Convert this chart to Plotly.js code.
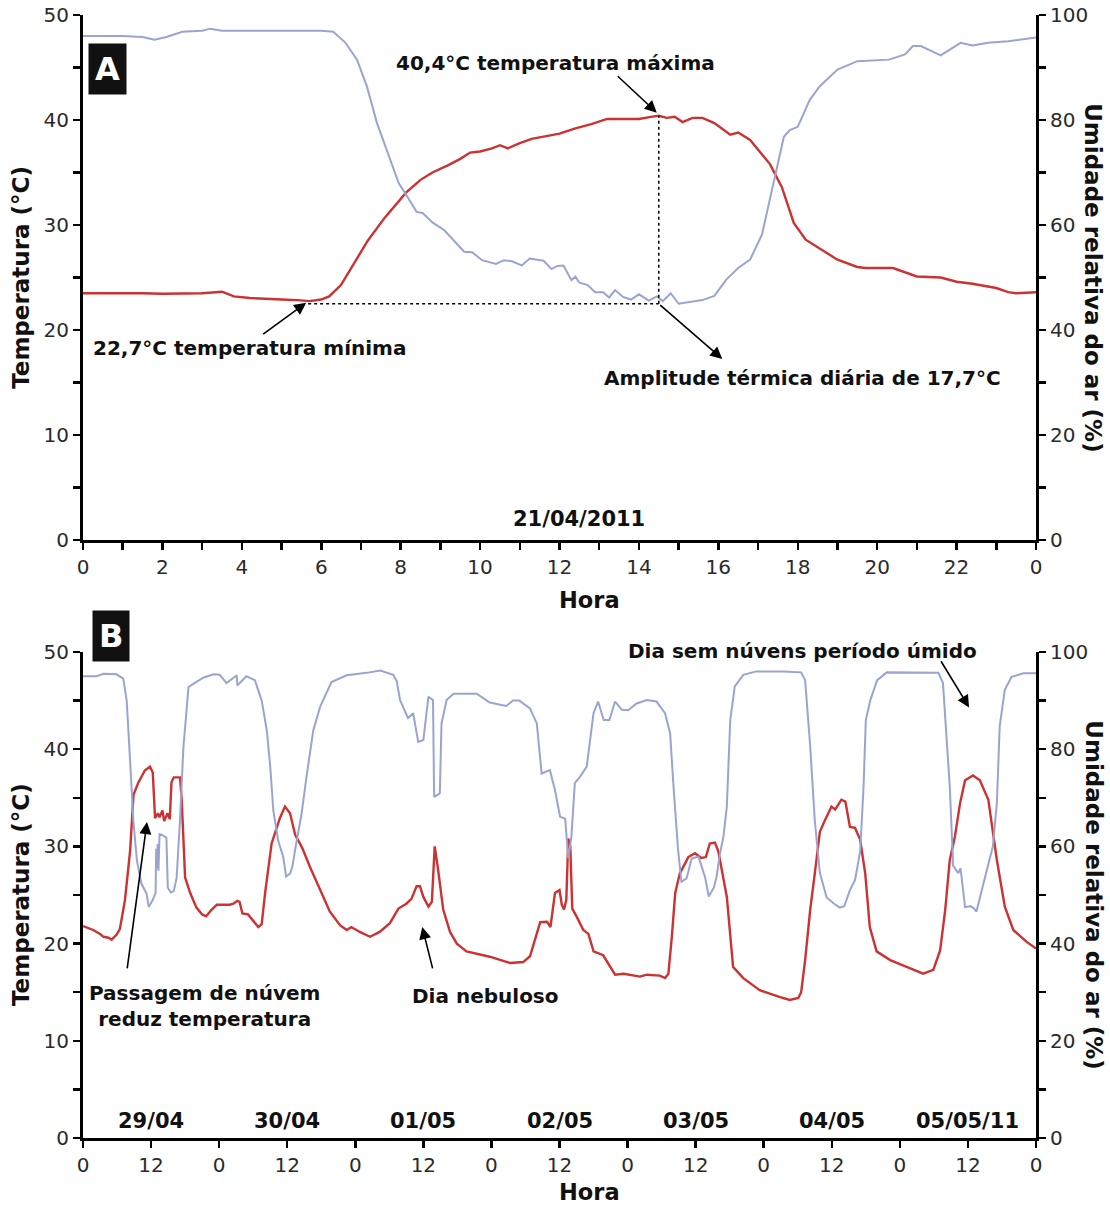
<!DOCTYPE html>
<html><head><meta charset="utf-8">
<script src="https://cdn.plot.ly/plotly-3.0.1.min.js"></script>
<style>body{margin:0;background:#fff}#chart{width:1110px;height:1205px}</style>
</head><body><div id="chart"></div>
<script>
// ---------- Panel A : 21/04/2011 ----------
const hoursA_T = [0,0.5,1,1.5,2,2.5,3,3.5,3.8,4.2,4.6,5,5.4,5.7,6.0,6.2,6.5,6.8,7.17,7.6,8.14,8.5,8.8,9.2,9.5,9.75,10.0,10.3,10.5,10.7,11.0,11.3,11.6,12.0,12.4,12.8,13.2,13.6,14.0,14.3,14.5,14.7,14.9,15.1,15.35,15.6,15.9,16.3,16.5,16.8,17.0,17.3,17.6,17.9,18.2,18.5,19.0,19.5,19.7,20.4,21.0,21.6,22.0,22.4,22.8,23.0,23.3,23.5,24];
const tempA   = [23.5,23.5,23.55,23.5,23.45,23.45,23.5,23.65,23.2,23.05,22.95,22.9,22.85,22.75,22.9,23.2,24.3,26.2,28.5,30.7,33.1,34.3,35.0,35.7,36.3,36.9,37.0,37.3,37.6,37.3,37.8,38.2,38.4,38.7,39.2,39.6,40.1,40.1,40.1,40.3,40.4,40.2,40.3,39.8,40.2,40.2,39.7,38.6,38.8,38.1,37.2,35.8,33.6,30.2,28.6,27.9,26.7,26.0,25.9,25.9,25.1,25.0,24.6,24.4,24.1,24.0,23.6,23.5,23.6];
const hoursA_RH = [0,0.5,1.0,1.5,1.8,2.1,2.5,3.0,3.2,3.5,4.0,5.0,6.0,6.3,6.6,6.9,7.15,7.4,7.7,7.95,8.2,8.4,8.55,8.8,9.1,9.6,9.8,10.05,10.4,10.6,10.8,11.05,11.25,11.6,11.8,11.95,12.1,12.3,12.4,12.5,12.7,12.9,13.1,13.25,13.4,13.6,13.8,14.0,14.25,14.45,14.6,14.8,15.0,15.3,15.6,15.9,16.2,16.5,16.8,17.1,17.37,17.65,17.8,18.0,18.3,18.55,19.0,19.5,20.3,20.7,20.9,21.1,21.6,22.1,22.4,22.8,23.3,24.0];
const rhA = [96.0,96.0,96.0,95.8,95.3,95.8,96.8,97.0,97.4,97.0,97.0,97.0,97.0,96.8,94.8,91.5,86.4,79.5,73,68,65,62.5,62.3,60.5,59.0,54.9,54.8,53.3,52.6,53.3,53.1,52.3,53.6,53.2,51.6,52.2,52.3,49.5,50.2,49.0,48.6,47.2,47.2,46.2,47.6,46.3,45.8,46.8,45.6,46.4,45.5,47.0,45.0,45.3,45.7,46.5,49.6,51.8,53.4,58.2,67.2,76.8,78.1,78.7,83.8,86.4,89.6,91.2,91.5,92.5,94.1,94.1,92.3,94.7,94.2,94.7,95.0,95.7];
const tMax = 40.4, tMaxHour = 14.5;
const tMin = 22.7, tMinHour = 5.67;
const dateA = '21/04/2011';
const ticksA = [0,2,4,6,8,10,12,14,16,18,20,22,24];
const tickTextA = ['0','2','4','6','8','10','12','14','16','18','20','22','0'];

// ---------- Panel B : 29/04 – 05/05/2011 ----------
const hoursB_T = [0,1.8,3.0,3.6,4.5,5.05,5.9,6.5,7.4,8.3,8.9,9.7,10.9,11.8,12.3,12.7,13.2,13.5,14.0,14.3,14.9,15.3,15.6,16.0,17.1,17.4,18.0,18.9,20.0,21.0,21.7,22.7,23.6,25.9,26.5,27.2,27.6,28.1,29.1,30.0,30.9,31.5,32.1,33.25,34.7,35.6,36.5,37.4,38.6,40.0,41.8,43.5,45.3,46.5,47.3,48.8,50.6,52.3,54.1,55.6,57.0,57.9,58.8,59.4,60.0,60.9,61.5,62.0,62.6,63.5,64.7,65.9,67.6,71.7,75.3,77.6,78.8,80.6,81.8,82.4,83.2,84.0,84.4,84.8,85.2,85.55,85.9,86.25,87.0,88.2,89.1,90.0,91.7,93.8,95.3,98.2,99.4,101.7,102.6,103.2,103.8,104.4,105.2,106.7,107.9,109.0,109.8,110.5,111.4,112.0,113.5,114.6,116.4,119.3,122.9,124.6,126.1,126.6,127.3,128.2,129.0,129.9,130.8,131.95,132.6,133.7,134.4,135.2,136.1,137.0,137.9,138.7,139.9,142.3,145.2,148.1,149.9,151.1,152.0,152.8,153.7,154.6,155.5,156.9,158.1,159.6,161.1,162.5,164.0,166.3,168];
const tempB = [21.8,21.4,21.0,20.7,20.6,20.4,20.9,21.5,24.5,29.5,35.3,36.5,37.8,38.2,37.6,32.9,33.4,33.0,33.7,32.6,33.4,32.8,36.6,37.1,37.1,34.8,26.8,25.2,23.7,23.0,22.8,23.5,24.0,24.0,24.1,24.4,24.3,23.1,23.0,22.4,21.7,22.0,25.2,30.3,32.9,34.1,33.4,31.2,29.9,27.9,25.5,23.3,21.9,21.4,21.7,21.2,20.7,21.2,22.1,23.6,24.1,24.6,25.9,25.9,24.8,23.8,24.3,30.0,27.6,23.5,21.2,20.0,19.2,18.65,18.0,18.1,18.7,22.2,22.25,21.7,25.2,25.5,24.0,23.5,24.5,30.8,30.0,23.6,22.8,21.4,21.0,19.2,18.8,16.8,16.9,16.6,16.8,16.7,16.45,16.9,20.7,25.2,27.2,28.9,29.3,28.8,28.9,30.3,30.4,29.5,24.8,17.6,16.45,15.2,14.5,14.2,14.4,15.0,18.3,23.5,27.2,31.5,32.7,34.1,33.8,34.8,34.6,32.0,31.9,30.7,27.2,21.7,19.2,18.3,17.6,16.9,17.3,19.3,23.5,28.6,31.0,34.4,36.8,37.3,36.8,34.8,28.6,23.8,21.4,20.2,19.5];
const hoursB_RH = [0,2.4,3.6,5.9,7.1,7.7,8.3,8.87,9.5,10.3,11.2,11.6,12.3,12.8,12.9,13.05,13.15,13.3,13.5,14.0,14.7,14.95,15.5,16.0,16.5,17.1,17.7,18.6,19.5,21.2,23.0,24.1,25.3,26.3,27.1,27.2,28.0,28.8,30.3,31.5,32.4,33.0,33.55,34.4,35.3,35.8,36.5,36.9,37.5,38.5,39.4,40.6,41.8,43.8,46.5,50.0,52.4,54.1,54.7,55.3,55.9,57.3,58.2,59.1,60.0,60.9,61.7,61.9,62.9,63.2,64.1,65.3,69.4,71.7,74.6,75.8,76.9,78.8,80.0,80.85,82.3,83.2,84.1,85.0,85.55,86.1,86.7,87.6,88.8,90.0,90.8,91.8,92.8,93.8,95.0,96.1,97.6,99.4,101.1,102.6,103.5,104.1,104.9,105.5,106.4,107.3,108.5,109.7,110.3,111.2,111.7,112.3,112.9,113.5,114.1,114.9,116.4,118.7,123.4,126.6,127.3,128.2,129.0,129.9,131.1,132.3,133.4,134.2,135.2,136.1,137.0,137.6,138.0,138.8,140.0,141.7,147.0,150.8,151.6,152.8,153.4,154.3,154.7,155.2,155.5,156.5,157.0,157.5,158.4,159.3,160.4,161.1,161.6,162.5,163.7,165.8,168];
const rhB = [95.0,95.0,95.5,95.4,94.5,90.0,77.7,65.4,57.1,52.3,50.3,47.5,49.0,50.5,59.5,55.5,60.5,55.0,62.5,62.3,61.8,51.5,50.5,50.8,53.5,65.4,80.4,92.8,93.5,94.7,95.4,95.3,93.6,94.5,95.2,93.1,94.0,95.0,94.2,90.0,83.9,76.5,67.4,61.2,57.8,53.8,54.4,55.8,60.0,66.5,74.3,83.9,88.7,93.8,95.2,95.7,96.2,95.6,95.3,94.0,90.1,86.4,87.4,81.5,81.9,90.8,90.1,70.2,70.9,85.3,90.1,91.4,91.4,89.6,88.9,90.0,90.0,88.4,85.3,75.0,75.7,71.6,66.1,65.7,57.5,62.0,73.0,74.3,76.4,87.4,89.8,86.0,86.0,89.8,88.1,88.0,89.4,90.1,89.8,87.4,83.3,72.3,59.3,52.7,53.4,57.5,57.9,53.5,49.7,51.5,53.8,58.6,62.0,68.2,86.0,92.9,95.3,96.0,96.0,95.8,94.2,80.5,65.4,54.5,49.5,48.3,47.4,47.7,51.0,53.1,58.9,72.3,86.0,90.1,94.2,95.8,95.8,95.7,93.6,72.3,56.0,54.5,55.5,51.0,47.5,47.7,47.3,46.6,50.5,55.0,60.0,68.9,84.7,92.2,94.9,95.6,95.6];
const datesB = ['29/04','30/04','01/05','02/05','03/05','04/05','05/05/11'];
const ticksB = [0,12,24,36,48,60,72,84,96,108,120,132,144,156,168];
const tickTextB = ['0','12','0','12','0','12','0','12','0','12','0','12','0','12','0'];

// ---------- styles ----------
const RED = '#cc3232', BLUE = '#9aa4d1';
const FONT = 'DejaVu Sans, Verdana, sans-serif';
const tickFont = {family: FONT, size: 20, color: '#2a2a2a'};
const boldFont = (s) => ({family: FONT, size: s, color: '#111', weight: 'bold'});
const fmt = v => v.toFixed(1).replace('.', ',');

const traces = [
  {x: hoursA_RH, y: rhA, xaxis: 'x', yaxis: 'y2', mode: 'lines', line: {color: BLUE, width: 2}},
  {x: hoursA_T, y: tempA, xaxis: 'x', yaxis: 'y', mode: 'lines', line: {color: RED, width: 2.4}},
  {x: hoursB_RH, y: rhB, xaxis: 'x2', yaxis: 'y4', mode: 'lines', line: {color: BLUE, width: 2}},
  {x: hoursB_T, y: tempB, xaxis: 'x2', yaxis: 'y3', mode: 'lines', line: {color: RED, width: 2.4}}
];

const axisBase = {showgrid: false, zeroline: false, showline: true, linecolor: '#000', linewidth: 3,
  ticks: 'outside', ticklen: 7, tickwidth: 2.5, tickcolor: '#000', tickfont: tickFont};
const minor = (d) => ({dtick: d, ticks: 'outside', ticklen: 7, tickwidth: 2.5, tickcolor: '#000', showgrid: false});

const dA = [0.5325, 1], dB = [0, 0.4328];

const annotations = [];
const arrow = (xr, yr, x, y, ax, ay) => annotations.push({xref: xr, yref: yr, axref: xr, ayref: yr,
  x: x, y: y, ax: ax, ay: ay, text: '', showarrow: true, arrowhead: 2, arrowsize: 1.5,
  arrowwidth: 1.6, arrowcolor: '#000', standoff: 0, startstandoff: 0});
const label = (xr, yr, x, y, text, size, extra) => annotations.push(Object.assign({xref: xr, yref: yr,
  x: x, y: y, text: text, showarrow: false, font: boldFont(size), xanchor: 'center', yanchor: 'middle'}, extra || {}));

// Panel A
label('x', 'y', 11.89, 45.4, fmt(tMax) + '°C temperatura máxima', 20);
arrow('x', 'y', tMaxHour - 0.05, tMax + 0.3, 13.43, 44.3);
label('x', 'y', 4.2, 18.3, fmt(tMin) + '°C temperatura mínima', 20);
arrow('x', 'y', tMinHour - 0.05, tMin - 0.1, 4.5, 19.5);
label('x', 'y', 18.11, 15.4, 'Amplitude térmica diária de ' + fmt(tMax - tMin) + '°C', 20);
arrow('x', 'y', 16.1, 17.25, tMaxHour, tMin - 0.2);
label('x', 'y', 12.5, 2.0, dateA, 21);
// Panel B
label('paper', 'paper', 0.7545, 0.4337, 'Dia sem núvens período úmido', 20);
arrow('x2', 'y3', 156.2, 44.3, 151.1, 49.2);
label('x2', 'y3', 21.5, 13.6, 'Passagem de núvem<br>reduz temperatura', 20);
arrow('x2', 'y3', 11.28, 32.5, 7.76, 17.3);
label('x2', 'y3', 71.0, 14.6, 'Dia nebuloso', 20);
arrow('x2', 'y3', 59.8, 21.7, 61.7, 17.3);
datesB.forEach((d, i) => label('x2', 'y3', i * 24 + 12, 1.7, d, 21));

// panel letters
const letterFont = {family: FONT, size: 32, color: '#fff', weight: 'bold'};
label('paper', 'paper', 0.0262, 0.952, 'A', 32, {bgcolor: '#111', font: letterFont, borderpad: 6});
label('paper', 'paper', 0.0294, 0.447, 'B', 32, {bgcolor: '#111', font: letterFont, borderpad: 6});

// axis titles
const titleL = 'Temperatura (°C)', titleR = 'Umidade relativa do ar (%)';
[0.766, 0.2164].forEach((yc) => {
  label('paper', 'paper', -0.065, yc, titleL, 23, {textangle: -90});
  label('paper', 'paper', 1.0605, yc, titleR, 23, {textangle: 90});
});
label('paper', 'paper', 0.532, 0.479, 'Hora', 22.5);
label('paper', 'paper', 0.532, -0.048, 'Hora', 22.5);

const shapes = [
  {type: 'line', xref: 'x', yref: 'y', x0: tMinHour, x1: tMaxHour, y0: tMin - 0.2, y1: tMin - 0.2,
   line: {color: '#000', width: 1.5, dash: 'dot'}},
  {type: 'line', xref: 'x', yref: 'y', x0: tMaxHour, x1: tMaxHour, y0: tMin - 0.2, y1: tMax,
   line: {color: '#000', width: 1.5, dash: 'dot'}}
];

const layout = {
  width: 1110, height: 1205,
  margin: {l: 83, r: 74, t: 15, b: 67},
  paper_bgcolor: '#fff', plot_bgcolor: '#fff',
  showlegend: false, hovermode: false,
  font: {family: FONT},
  xaxis: Object.assign({}, axisBase, {domain: [0, 1], anchor: 'y', range: [0, 24], tickmode: 'array',
    tickvals: ticksA, ticktext: tickTextA, minor: Object.assign(minor(1), {tickmode: 'linear', tick0: 0})}),
  yaxis: Object.assign({}, axisBase, {domain: dA, anchor: 'x', range: [0, 50], dtick: 10, minor: minor(5)}),
  yaxis2: Object.assign({}, axisBase, {overlaying: 'y', side: 'right', anchor: 'x', range: [0, 100], dtick: 20, minor: minor(10)}),
  xaxis2: Object.assign({}, axisBase, {domain: [0, 1], anchor: 'y3', range: [0, 168], tickmode: 'array',
    tickvals: ticksB, ticktext: tickTextB}),
  yaxis3: Object.assign({}, axisBase, {domain: dB, anchor: 'x2', range: [0, 50], dtick: 10, minor: minor(5)}),
  yaxis4: Object.assign({}, axisBase, {overlaying: 'y3', side: 'right', anchor: 'x2', range: [0, 100], dtick: 20, minor: minor(10)}),
  annotations: annotations,
  shapes: shapes
};

Plotly.newPlot('chart', traces, layout, {staticPlot: true, displayModeBar: false});
</script></body></html>
